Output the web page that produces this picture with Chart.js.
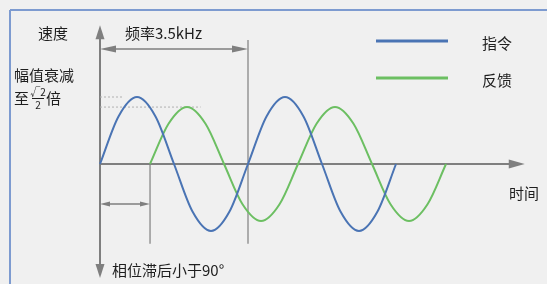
<!DOCTYPE html>
<html>
<head>
<meta charset="utf-8">
<script src="https://cdn.jsdelivr.net/npm/chart.js@4/dist/chart.umd.min.js"></script>
<style>
  html, body { margin: 0; padding: 0; background: #f0f0f0; }
  #wrap { width: 547px; height: 284px; }
</style>
</head>
<body>
<div id="wrap"><canvas id="chart" width="547" height="284"></canvas></div>
<script>
  // time in periods of the 3.5kHz command, sampled every 1/8 period
  var commandTime = [0, 0.125, 0.25, 0.375, 0.5, 0.625, 0.75, 0.875, 1,
                     1.125, 1.25, 1.375, 1.5, 1.625, 1.75, 1.875, 2];
  var commandSpeed = [0, 0.71, 1, 0.71, 0, -0.71, -1, -0.71, 0,
                      0.71, 1, 0.71, 0, -0.71, -1, -0.71, 0];

  var feedbackTime = [0.338, 0.463, 0.588, 0.713, 0.838, 0.963, 1.088, 1.213, 1.338,
                      1.463, 1.588, 1.713, 1.838, 1.963, 2.088, 2.213, 2.338];
  var feedbackSpeed = [0, 0.6, 0.85, 0.6, 0, -0.6, -0.85, -0.6, 0,
                       0.6, 0.85, 0.6, 0, -0.6, -0.85, -0.6, 0];

  var seriesNames = ['指令', '反馈'];
  var seriesColors = ['#4a74b4', '#6cbf62'];

  function toPoints(xs, ys) {
    return xs.map(function (x, i) { return { x: x, y: ys[i] }; });
  }

  var FONT = '"Noto Sans CJK SC", "Noto Sans", sans-serif';

  function arrowHead(ctx, x, y, dir, len, half) {
    // dir: 'up', 'down', 'left', 'right' ; tip at (x, y)
    ctx.beginPath();
    ctx.moveTo(x, y);
    if (dir === 'up') { ctx.lineTo(x - half, y + len); ctx.lineTo(x + half, y + len); }
    if (dir === 'down') { ctx.lineTo(x - half, y - len); ctx.lineTo(x + half, y - len); }
    if (dir === 'left') { ctx.lineTo(x + len, y - half); ctx.lineTo(x + len, y + half); }
    if (dir === 'right') { ctx.lineTo(x - len, y - half); ctx.lineTo(x - len, y + half); }
    ctx.closePath();
    ctx.fill();
  }

  function line(ctx, x1, y1, x2, y2) {
    ctx.beginPath();
    ctx.moveTo(x1, y1);
    ctx.lineTo(x2, y2);
    ctx.stroke();
  }

  var sketchPlugin = {
    id: 'sketch',
    beforeDraw: function (chart) {
      var ctx = chart.ctx;
      ctx.save();
      ctx.fillStyle = '#f0f0f0';
      ctx.fillRect(0, 0, chart.width, chart.height);
      ctx.strokeStyle = '#7d9bd0';
      ctx.lineWidth = 2;
      line(ctx, 10, 10, chart.width, 10);
      line(ctx, 10, 10, 10, chart.height);
      ctx.restore();
    },
    beforeDatasetsDraw: function (chart) {
      var ctx = chart.ctx;
      var sx = chart.scales.x, sy = chart.scales.y;
      var X = function (v) { return sx.getPixelForValue(v); };
      var Y = function (v) { return sy.getPixelForValue(v); };
      ctx.save();
      ctx.strokeStyle = '#7f7f7f';
      ctx.fillStyle = '#7f7f7f';

      // speed axis (both directions)
      ctx.lineWidth = 2;
      line(ctx, X(0), Y(1.95), X(0), Y(-1.55));
      arrowHead(ctx, X(0), Y(2.07), 'up', 14, 4.5);
      arrowHead(ctx, X(0), Y(-1.70), 'down', 14, 4.5);

      // time axis
      line(ctx, X(0), Y(0), X(2.78), Y(0));
      arrowHead(ctx, X(2.87), Y(0), 'right', 16, 4.5);

      // reference verticals
      ctx.lineWidth = 1.2;
      line(ctx, X(0.338), Y(0), X(0.338), Y(-1.19));
      line(ctx, X(1), Y(1.85), X(1), Y(-1.19));

      // period dimension arrow
      ctx.lineWidth = 1.5;
      line(ctx, X(0.05), Y(1.716), X(0.95), Y(1.716));
      arrowHead(ctx, X(0), Y(1.716), 'left', 16, 3.5);
      arrowHead(ctx, X(1), Y(1.716), 'right', 16, 3.5);

      // phase lag dimension arrow
      line(ctx, X(0.04), Y(-0.597), X(0.3), Y(-0.597));
      arrowHead(ctx, X(0), Y(-0.597), 'left', 10, 2.5);
      arrowHead(ctx, X(0.338), Y(-0.597), 'right', 10, 2.5);

      // amplitude dotted guides
      ctx.strokeStyle = '#b0b0b0';
      ctx.lineWidth = 1;
      ctx.setLineDash([2, 2]);
      line(ctx, X(0), Y(1), X(0.15), Y(1));
      line(ctx, X(0), Y(0.85), X(0.68), Y(0.85));
      ctx.setLineDash([]);

      // legend
      ctx.lineWidth = 3;
      ctx.strokeStyle = seriesColors[0];
      line(ctx, 376, 41, 448, 41);
      ctx.strokeStyle = seriesColors[1];
      line(ctx, 376, 78, 448, 78);

      // texts
      ctx.fillStyle = '#1e1e1e';
      ctx.textBaseline = 'middle';
      ctx.textAlign = 'left';
      ctx.font = '15px ' + FONT;
      ctx.fillText('速度', 38, 33);
      ctx.fillText('频率3.5kHz', 125, 33);
      ctx.fillText('幅值衰减', 14, 75);
      ctx.fillText('至', 14, 98);
      ctx.fillText('倍', 46, 98);
      ctx.fillText(seriesNames[0], 482, 43);
      ctx.fillText(seriesNames[1], 482, 80);
      ctx.fillText('时间', 509, 193);
      ctx.fillText('相位滞后小于90°', 112, 270);

      // sqrt(2)/2 fraction
      ctx.font = '10px ' + FONT;
      ctx.textAlign = 'center';
      ctx.fillText('√2', 38, 92);
      ctx.fillText('2', 38, 105);
      ctx.strokeStyle = '#1e1e1e';
      ctx.lineWidth = 1;
      line(ctx, 32, 98.5, 44, 98.5);
      ctx.restore();
    }
  };

  var ctx = document.getElementById('chart').getContext('2d');
  window.speedChart = new Chart(ctx, {
    type: 'line',
    data: {
      datasets: [
        {
          label: seriesNames[0],
          data: toPoints(commandTime, commandSpeed),
          borderColor: seriesColors[0],
          borderWidth: 2,
          pointRadius: 0,
          cubicInterpolationMode: 'monotone',
          fill: false
        },
        {
          label: seriesNames[1],
          data: toPoints(feedbackTime, feedbackSpeed),
          borderColor: seriesColors[1],
          borderWidth: 2,
          pointRadius: 0,
          cubicInterpolationMode: 'monotone',
          fill: false
        }
      ]
    },
    options: {
      responsive: false,
      animation: false,
      layout: { padding: 0 },
      plugins: {
        legend: { display: false },
        tooltip: { enabled: false }
      },
      scales: {
        x: { type: 'linear', min: -0.6757, max: 3.0203, display: false },
        y: { type: 'linear', min: -1.791, max: 2.4478, display: false }
      }
    },
    plugins: [sketchPlugin]
  });
</script>
</body>
</html>
